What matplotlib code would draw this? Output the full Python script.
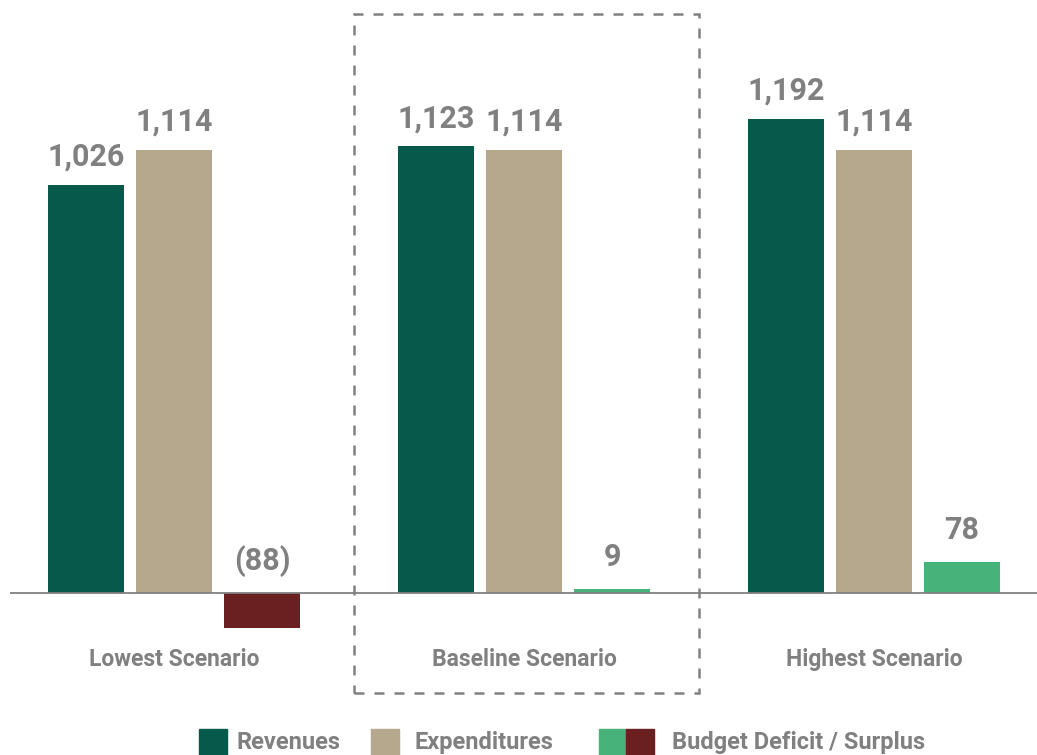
import matplotlib.pyplot as plt
from matplotlib.patches import Rectangle
import numpy as np

scenarios = ["Lowest Scenario", "Baseline Scenario", "Highest Scenario"]
revenues = [1026, 1123, 1192]
expenditures = [1114, 1114, 1114]
balance = [-88, 9, 78]
balance_labels = ["(88)", "9", "78"]

c_rev = "#065a4b"
c_exp = "#b5a88c"
c_pos = "#47b27a"
c_neg = "#6a1f21"
c_txt = "#808080"

plt.rcParams['font.family'] = ['Roboto', 'DejaVu Sans']

W, H = 1037, 755
fig = plt.figure(figsize=(W / 100, H / 100), dpi=100)
# axes covers x 10..1037 px, y 0..700 px
ax = fig.add_axes([10 / W, (H - 700) / H, 1 - 10 / W, 700 / H])
ax.set_xlim(-0.469, 2.466)
ax.set_ylim(-269, 1491)
ax.axis("off")

x = np.arange(len(scenarios))
bw = 76 / 350
off = 88 / 350
pxy = 1760 / 700  # data units per pixel in y

ax.bar(x - off, revenues, bw, color=c_rev)
ax.bar(x, expenditures, bw, color=c_exp)
ax.bar(x + off, balance, bw, color=[c_neg if b < 0 else c_pos for b in balance])
ax.axhline(0, color=c_txt, lw=1.3, zorder=3)

lab = dict(ha="center", va="baseline", color=c_txt, fontsize=22, fontweight="bold")
gap = 19 * pxy
for i in range(len(scenarios)):
    ax.text(x[i] - off, revenues[i] + gap, f"{revenues[i]:,}", **lab)
    ax.text(x[i], expenditures[i] + gap, f"{expenditures[i]:,}", **lab)
    ax.text(x[i] + off, max(balance[i], 0) + gap + 4 * pxy, balance_labels[i], **lab)
    ax.text(x[i], -73 * pxy, scenarios[i], ha="center", va="baseline",
            color=c_txt, fontsize=16.5, fontweight="bold")

# dashed highlight box around baseline
ax.add_patch(Rectangle((1 - 170 / 350, -100 * pxy), 345 / 350, 679 * pxy,
                       fill=False, ls=(0, (4, 4)), lw=1.8, ec=c_txt, clip_on=False))

# legend
def fbox(x0, y0, w, h, color):
    fig.patches.append(Rectangle((x0 / W, 1 - (y0 + h) / H), w / W, h / H,
                                 transform=fig.transFigure, color=color))

ly = 729
fbox(199, ly, 28, 28, c_rev)
fbox(371, ly, 28, 28, c_exp)
fbox(599, ly, 27, 28, c_pos)
fbox(626, ly, 28, 28, c_neg)
for tx, t in [(237, "Revenues"), (414, "Expenditures"), (672, "Budget Deficit / Surplus")]:
    fig.text(tx / W, 1 - 749 / H, t, ha="left", va="baseline", color=c_txt,
             fontsize=17, fontweight="bold")

fig.savefig("out.png", dpi=100)
